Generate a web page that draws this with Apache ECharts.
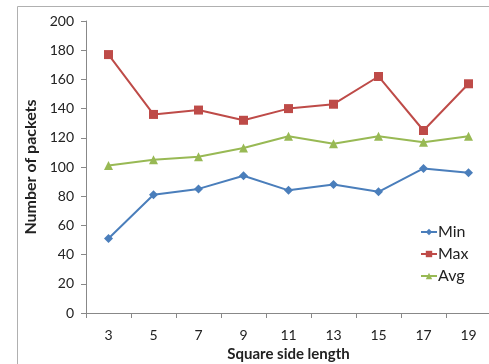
<!DOCTYPE html>
<html><head><meta charset="utf-8">
<script src="https://cdn.jsdelivr.net/npm/echarts@6/dist/echarts.min.js"></script>
<style>html,body{margin:0;padding:0;background:#fff}#c{width:489px;height:364px}</style>
</head><body><div id="c"></div>
<script>
const categories = ['3','5','7','9','11','13','15','17','19'];
const minVals = [51, 81, 85, 94, 84, 88, 83, 99, 96];
const maxVals = [177, 136, 139, 132, 140, 143, 162, 125, 157];
const avgVals = [101, 105, 107, 113, 121, 116, 121, 117, 121];
const FONT = 'Lato, "Open Sans", sans-serif';
const chart = echarts.init(document.getElementById('c'), null, {renderer:'canvas'});
function s(name, data, color, symbol, size){
  return {name, type:'line', data, symbol, symbolSize:size, showSymbol:true,
    lineStyle:{color, width:2}, itemStyle:{color}, animation:false};
}
chart.setOption({
  animation:false,
  textStyle:{fontFamily:FONT},
  graphic:[{type:'rect', shape:{x:17.5,y:6.5,width:600,height:600}, style:{fill:null, stroke:'#b0b0b0', lineWidth:1}, silent:true}],
  grid:{left:86, right:-2, top:21, bottom:51, containLabel:false, outerBoundsMode:'none'},
  legend:{orient:'vertical', left:415, top:219, itemGap:6, itemWidth:16, itemHeight:8,
    textStyle:{fontSize:16, color:'#222', fontFamily:FONT, padding:[0,0,0,-4]},
    data:['Min','Max','Avg']},
  xAxis:{type:'category', data:categories, boundaryGap:true,
    name:'Square side length', nameLocation:'middle', nameGap:32,
    nameTextStyle:{fontSize:15, fontWeight:'bold', color:'#222', fontFamily:FONT},
    axisLine:{lineStyle:{color:'#888'}}, axisTick:{show:true, length:5, inside:false, lineStyle:{color:'#888'}},
    axisLabel:{fontSize:14, color:'#222', margin:15, fontFamily:FONT}, splitLine:{show:false}},
  yAxis:{type:'value', min:0, max:200, interval:20,
    name:'Number of packets', nameLocation:'middle', nameGap:45,
    nameTextStyle:{fontSize:16, fontWeight:'bold', color:'#222', fontFamily:FONT},
    axisLine:{show:true, lineStyle:{color:'#888'}}, axisTick:{show:true, length:5, lineStyle:{color:'#888'}},
    axisLabel:{fontSize:14, color:'#222', margin:12, fontFamily:FONT}, splitLine:{show:false}},
  series:[
    s('Min', minVals, '#4a7ebb', 'diamond', 9),
    s('Max', maxVals, '#be4b48', 'rect', 9),
    s('Avg', avgVals, '#98b954', 'triangle', 9)
  ]
});
</script></body></html>
